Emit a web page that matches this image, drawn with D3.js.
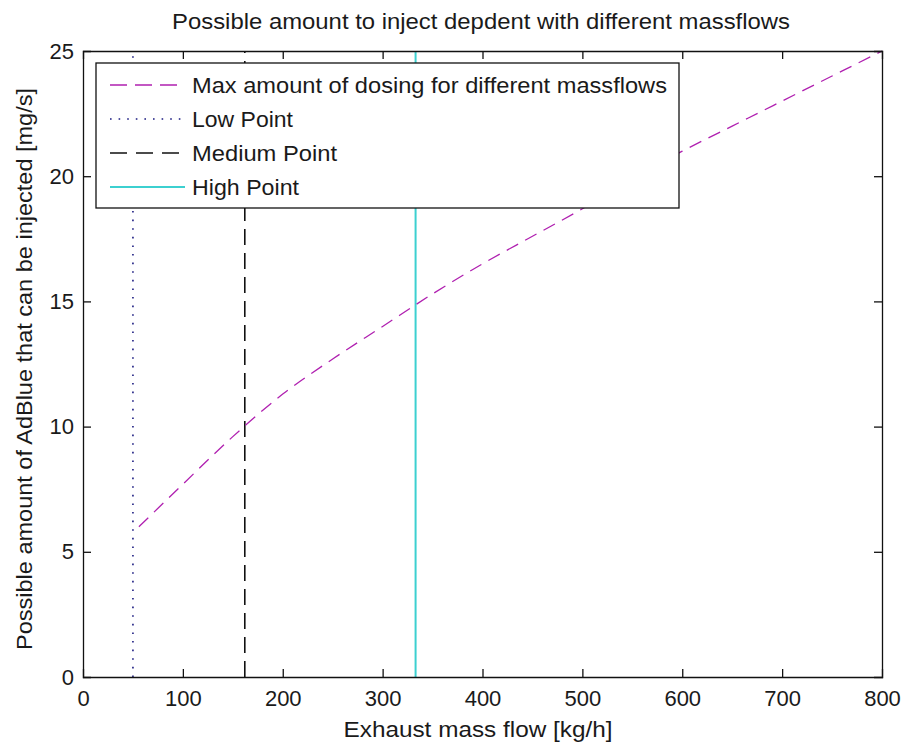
<!DOCTYPE html>
<html>
<head>
<meta charset="utf-8">
<script src="https://cdn.jsdelivr.net/npm/d3@7"></script>
<style>
  html, body { margin: 0; padding: 0; background: #fff; }
  svg { display: block; }
  text { font-family: "Liberation Sans", Arial, sans-serif; fill: #1a1a1a; }
</style>
</head>
<body>
<svg id="chart" width="902" height="745"></svg>
<script>
// Exhaust mass flow [kg/h] and max AdBlue dosing [mg/s]
const massflow = [56, 100, 150, 200, 250, 300, 350, 400, 450, 500, 550, 600, 650, 700, 750, 800];
const dosing   = [6.0, 7.7, 9.6, 11.3, 12.7, 14.0, 15.3, 16.5, 17.6, 18.7, 19.9, 21.0, 22.0, 23.0, 24.0, 25.0];

// Operating points (vertical markers)
const pointNames = ["Low Point", "Medium Point", "High Point"];
const pointFlows = [50, 162, 333];

const xTicks = [0, 100, 200, 300, 400, 500, 600, 700, 800];
const yTicks = [0, 5, 10, 15, 20, 25];

const titleText = "Possible amount to inject depdent with different massflows";
const xLabel = "Exhaust mass flow [kg/h]";
const yLabel = "Possible amount of AdBlue that can be injected [mg/s]";
const seriesName = "Max amount of dosing for different massflows";

const svg = d3.select("#chart");
const plotL = 83, plotR = 882, plotT = 51, plotB = 677;

const x = d3.scaleLinear().domain([0, 800]).range([plotL, plotR]);
const y = d3.scaleLinear().domain([0, 25]).range([plotB, plotT]);

const styles = [
  { color: "#b020b0", width: 1.3, dash: "13,8" },   // curve
  { color: "#1a1a80", width: 1.6, dash: "1.6,7" },  // low
  { color: "#111",    width: 1.6, dash: "16,8" },   // medium
  { color: "#3cd0d0", width: 2,   dash: null }      // high
];

const fs = 22;

// Plot area
svg.append("rect").attr("x", plotL).attr("y", plotT)
  .attr("width", plotR - plotL).attr("height", plotB - plotT)
  .attr("fill", "#fff");

// Vertical operating point lines
const vl = svg.append("g");
pointFlows.forEach((v, i) => {
  const s = styles[i + 1];
  vl.append("line")
    .attr("x1", x(v)).attr("x2", x(v))
    .attr("y1", y(0)).attr("y2", y(25))
    .attr("stroke", s.color).attr("stroke-width", s.width)
    .attr("stroke-dasharray", s.dash);
});

// Dosing curve
const line = d3.line()
  .x((d, i) => x(massflow[i]))
  .y(d => y(d))
  .curve(d3.curveMonotoneX);
svg.append("path")
  .datum(dosing)
  .attr("d", line)
  .attr("fill", "none")
  .attr("stroke", styles[0].color)
  .attr("stroke-width", styles[0].width)
  .attr("stroke-dasharray", styles[0].dash);

// Axes with inward ticks on all four sides
const tickLen = 8;
const axB = svg.append("g").attr("transform", `translate(0,${plotB})`)
  .call(d3.axisBottom(x).tickValues(xTicks).tickSize(-tickLen).tickPadding(13).tickFormat(d3.format("d")));
const axT = svg.append("g").attr("transform", `translate(0,${plotT})`)
  .call(d3.axisTop(x).tickValues(xTicks).tickSize(-tickLen).tickFormat(""));
const axL = svg.append("g").attr("transform", `translate(${plotL},0)`)
  .call(d3.axisLeft(y).tickValues(yTicks).tickSize(-tickLen).tickPadding(9).tickFormat(d3.format("d")));
const axR = svg.append("g").attr("transform", `translate(${plotR},0)`)
  .call(d3.axisRight(y).tickValues(yTicks).tickSize(-tickLen).tickFormat(""));

[axB, axT, axL, axR].forEach(a => {
  a.select(".domain").attr("stroke", "#111").attr("stroke-width", 1.3);
  a.selectAll(".tick line").attr("stroke", "#111").attr("stroke-width", 1.3);
  a.selectAll("text").attr("font-size", fs).attr("font-family", "Liberation Sans, Arial, sans-serif").attr("fill", "#222");
});
axB.selectAll(".tick text").attr("dy", "0.71em");
// Hide end ticks that sit on the frame
axB.selectAll(".tick line").filter(d => d === 0 || d === 800).remove();
axT.selectAll(".tick line").filter(d => d === 0 || d === 800).remove();
axL.selectAll(".tick line").filter(d => d === 0 || d === 25).remove();
axR.selectAll(".tick line").filter(d => d === 0 || d === 25).remove();

// Titles
svg.append("text").attr("x", 481).attr("y", 29)
  .attr("text-anchor", "middle").attr("font-size", fs)
  .attr("textLength", 618).attr("lengthAdjust", "spacingAndGlyphs")
  .text(titleText);
svg.append("text").attr("x", 478).attr("y", 737)
  .attr("text-anchor", "middle").attr("font-size", fs)
  .attr("textLength", 269).attr("lengthAdjust", "spacingAndGlyphs")
  .text(xLabel);
svg.append("text")
  .attr("transform", `translate(32,${(plotT + plotB) / 2 + 5}) rotate(-90)`)
  .attr("text-anchor", "middle").attr("font-size", fs)
  .attr("textLength", 562).attr("lengthAdjust", "spacingAndGlyphs")
  .text(yLabel);

// Legend
const lg = svg.append("g");
lg.append("rect").attr("x", 96).attr("y", 63).attr("width", 583).attr("height", 145)
  .attr("fill", "#fff").attr("stroke", "#111").attr("stroke-width", 1.3);
const names = [seriesName].concat(pointNames);
const rowY = [85, 119, 153, 187];
const textW = [475, 101, 145, 107];
names.forEach((n, i) => {
  const s = styles[i];
  lg.append("line")
    .attr("x1", 110).attr("x2", 185).attr("y1", rowY[i]).attr("y2", rowY[i])
    .attr("stroke", s.color).attr("stroke-width", s.width)
    .attr("stroke-dasharray", i === 0 ? "17,8" : (i === 2 ? "17,9" : s.dash));
  lg.append("text").attr("x", 192).attr("y", rowY[i] + 8)
    .attr("font-size", fs)
    .attr("textLength", textW[i]).attr("lengthAdjust", "spacingAndGlyphs")
    .text(n);
});
</script>
</body>
</html>
